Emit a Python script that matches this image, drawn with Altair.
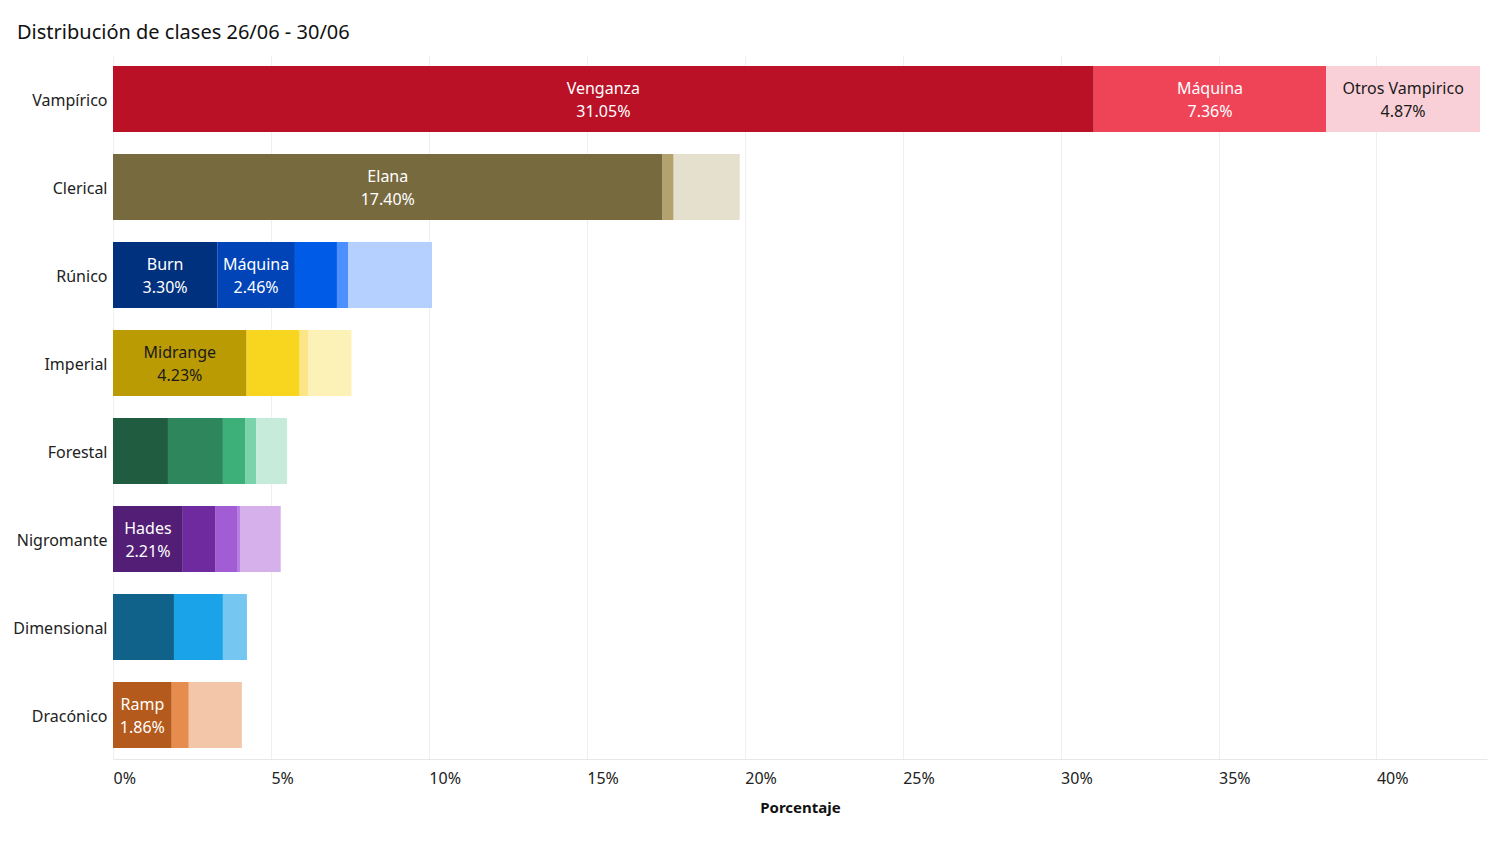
import altair as alt
import pandas as pd

clases = ["Vampírico", "Clerical", "Rúnico", "Imperial", "Forestal",
          "Nigromante", "Dimensional", "Dracónico"]

arquetipos = [
    ["Venganza", "Máquina", "Otros Vampirico"],
    ["Elana", "Clerical 2", "Otros Clerical"],
    ["Burn", "Máquina", "Rúnico 3", "Rúnico 4", "Otros Rúnico"],
    ["Midrange", "Imperial 2", "Imperial 3", "Otros Imperial"],
    ["Forestal 1", "Forestal 2", "Forestal 3", "Forestal 4", "Otros Forestal"],
    ["Hades", "Nigromante 2", "Nigromante 3", "Nigromante 4", "Otros Nigromante"],
    ["Dimensional 1", "Dimensional 2", "Otros Dimensional"],
    ["Ramp", "Dracónico 2", "Otros Dracónico"],
]

porcentajes = [
    [31.05, 7.36, 4.87],
    [17.40, 0.35, 2.09],
    [3.30, 2.46, 1.33, 0.35, 2.66],
    [4.23, 1.68, 0.28, 1.36],
    [1.74, 1.74, 0.70, 0.35, 0.98],
    [2.21, 1.04, 0.70, 0.09, 1.27],
    [1.93, 1.55, 0.76],
    [1.86, 0.54, 1.68],
]

etiquetado = [
    [True, True, True],
    [True, False, False],
    [True, True, False, False, False],
    [True, False, False, False],
    [False, False, False, False, False],
    [True, False, False, False, False],
    [False, False, False],
    [True, False, False],
]

colores = [
    ["#BA1127", "#EF4458", "#FAD0D8"],
    ["#786A3F", "#B3A26D", "#E5DFCE"],
    ["#00317E", "#0044B8", "#005CE6", "#4C90FF", "#B5D0FF"],
    ["#BB9B04", "#F8D620", "#FBE586", "#FCF1B6"],
    ["#205C40", "#2E865C", "#3DAF78", "#7AD3AA", "#C6EBDA"],
    ["#531E75", "#6E2A9E", "#A25DD4", "#B77FE3", "#D5B0EA"],
    ["#10628B", "#1AA3E8", "#75C6F1"],
    ["#B45A1C", "#E58C4E", "#F3C6A9"],
]

etiquetas_oscuras = ["Otros Vampirico", "Midrange"]

rows = []
for c, arqs, pcts, labs, cols in zip(clases, arquetipos, porcentajes, etiquetado, colores):
    for j, (a, p, l, col) in enumerate(zip(arqs, pcts, labs, cols)):
        rows.append(dict(clase=c, arquetipo=a, pct=p, orden=j,
                         clave=f"{c}|{a}", etiqueta=l))
df = pd.DataFrame(rows)
claves = list(df["clave"])
rango = [col for cols in colores for col in cols]

FONT = "Noto Sans"

y_enc = alt.Y("clase:N", sort=clases, title=None,
              scale=alt.Scale(paddingInner=0.25, paddingOuter=0.125),
              axis=alt.Axis(ticks=False, domain=False, labelFontSize=16,
                            labelPadding=6, labelColor="#222", labelFont=FONT,
                            labelOffset=2))

x_scale = alt.Scale(domain=[0, 43.5], nice=False, zero=True)

base = alt.Chart(df).transform_stack(
    stack="pct", groupby=["clase"], as_=["x0", "x1"],
    sort=[alt.SortField("orden", order="ascending")]
)

bars = base.mark_bar().encode(
    y=y_enc,
    x=alt.X("x0:Q", scale=x_scale,
            axis=alt.Axis(values=[0, 5, 10, 15, 20, 25, 30, 35, 40],
                          labelExpr="datum.value + '%'", labelAlign="left",
                          labelFontSize=16, labelColor="#222", labelFont=FONT,
                          labelPadding=11, ticks=False, grid=True,
                          gridColor="#EFEFEF", domainColor="#E8E8E8",
                          title="Porcentaje", titleFontSize=15,
                          titleFont=FONT, titleFontWeight="bold",
                          titleColor="#111", titlePadding=14)),
    x2="x1:Q",
    color=alt.Color("clave:N", scale=alt.Scale(domain=claves, range=rango),
                    legend=None),
)

cond = " || ".join([f"datum.arquetipo == '{e}'" for e in etiquetas_oscuras])

texts = base.transform_filter("datum.etiqueta").transform_calculate(
    mid="(datum.x0 + datum.x1) / 2",
    label="datum.arquetipo + '\\n' + format(datum.pct, '.2f') + '%'",
).mark_text(fontSize=16, font=FONT, lineBreak="\n", lineHeight=23,
            align="center", baseline="middle", dy=-10).encode(
    y=alt.Y("clase:N", sort=clases),
    x=alt.X("mid:Q", scale=x_scale),
    text="label:N",
    color=alt.condition(cond, alt.value("#1a1a1a"), alt.value("white")),
)

chart = alt.layer(bars, texts).properties(
    width=1374, height=704,
    title=alt.TitleParams("Distribución de clases 26/06 - 30/06",
                          anchor="start", frame="group", dx=-96,
                          fontSize=20, fontWeight="normal", font=FONT,
                          color="#111", offset=12),
    autosize=alt.AutoSizeParams(type="none"),
    padding={"left": 105, "top": 47, "right": 2, "bottom": 80},
).configure_view(stroke=None)

chart.save("out.html", embed_options={"renderer": "svg", "actions": False})
